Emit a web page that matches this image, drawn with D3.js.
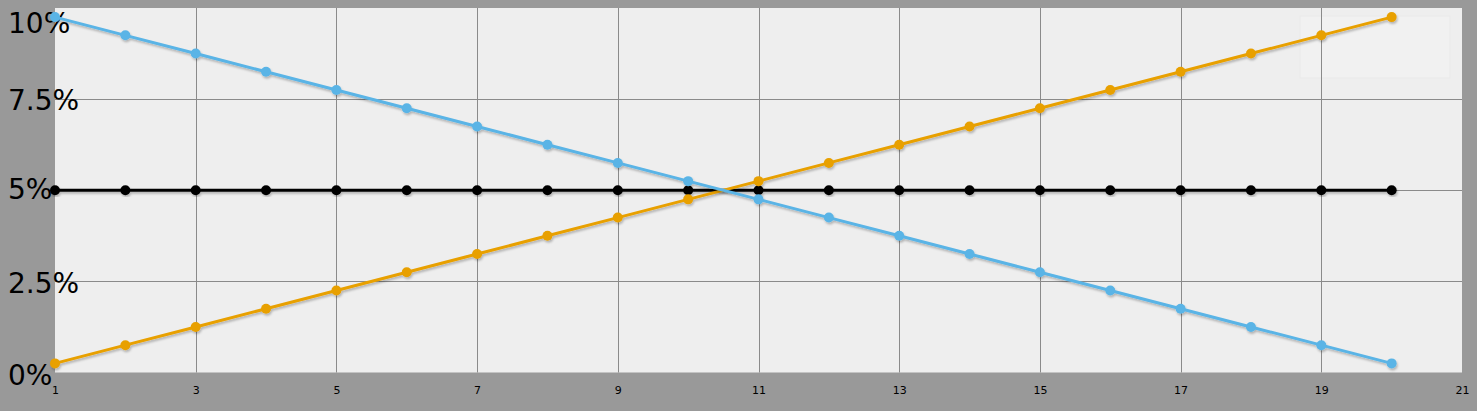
<!DOCTYPE html>
<html><head><meta charset="utf-8">
<script src="https://cdn.jsdelivr.net/npm/d3@7"></script>
<style>html,body{margin:0;padding:0;background:#999999;overflow:hidden}</style>
</head><body>
<svg id="c" width="1477" height="411"></svg>
<script>
const xValues = [1,2,3,4,5,6,7,8,9,10,11,12,13,14,15,16,17,18,19,20];
const blueValues = [9.75,9.25,8.75,8.25,7.75,7.25,6.75,6.25,5.75,5.25,4.75,4.25,3.75,3.25,2.75,2.25,1.75,1.25,0.75,0.25];
const orangeValues = [0.25,0.75,1.25,1.75,2.25,2.75,3.25,3.75,4.25,4.75,5.25,5.75,6.25,6.75,7.25,7.75,8.25,8.75,9.25,9.75];
const blackValues = [5,5,5,5,5,5,5,5,5,5,5,5,5,5,5,5,5,5,5,5];
const xTickValues = [1,3,5,7,9,11,13,15,17,19,21];
const yTickValues = [0,2.5,5,7.5,10];
const yTickLabels = ["0%","2.5%","5%","7.5%","10%"];

(function(){
const svg = d3.select("#c");
const W = 1477, H = 411;
const pL = 55, pR = 1462, pT = 8, pB = 372.5;
const x = d3.scaleLinear().domain([1,21]).range([pL,pR]);
const y = d3.scaleLinear().domain([0,10]).range([pB,pT]);

svg.append("rect").attr("width",W).attr("height",H).attr("fill","#999999");
svg.append("rect").attr("x",pL).attr("y",pT).attr("width",pR-pL).attr("height",pB-pT).attr("fill","#eeeeee");

const defs = svg.append("defs");
const f = defs.append("filter").attr("id","sh").attr("x","-5%").attr("y","-5%").attr("width","110%").attr("height","120%");
f.append("feDropShadow").attr("dx",1).attr("dy",2).attr("stdDeviation",1.2).attr("flood-color","#000").attr("flood-opacity",0.25);

// faint watermark box
svg.append("rect").attr("x",1300).attr("y",16).attr("width",150).attr("height",62).attr("fill","#f1f1f1").attr("stroke","#e9e9e9");

// grid
const grid = svg.append("g");
grid.selectAll("line.v").data(xTickValues.filter(d=>d>1&&d<21)).join("line")
  .attr("x1",d=>Math.round(x(d))+0.5).attr("x2",d=>Math.round(x(d))+0.5)
  .attr("y1",pT).attr("y2",pB).attr("stroke","#8a8a8a").attr("stroke-width",1);
grid.selectAll("line.h").data([2.5,5,7.5]).join("line")
  .attr("x1",pL).attr("x2",pR)
  .attr("y1",d=>Math.round(y(d))+0.5).attr("y2",d=>Math.round(y(d))+0.5)
  .attr("stroke","#8a8a8a").attr("stroke-width",1);

// x axis labels
const xAxis = d3.axisBottom(x).tickValues(xTickValues).tickSize(0).tickFormat(d3.format("d"));
const gx = svg.append("g").attr("transform",`translate(0,${pB+11})`).call(xAxis);
gx.select(".domain").remove();
gx.selectAll("text").attr("font-family","DejaVu Sans").attr("font-size",11).attr("fill","#000");

// y axis labels
const yOff = {0:4, 2.5:4, 5:1, 7.5:3, 10:17};
const gy = svg.append("g");
gy.selectAll("text").data(yTickValues).join("text")
  .attr("x",8)
  .attr("y",d=> y(d)+yOff[d])
  .attr("dominant-baseline","middle")
  .attr("font-family","DejaVu Sans").attr("font-size",28).attr("fill","#000")
  .text((d,i)=>yTickLabels[i]);

const series = [
  {vals: blackValues, color: "#000000"},
  {vals: orangeValues, color: "#e8a000"},
  {vals: blueValues, color: "#5ab4e6"}
];
const line = d3.line().x((d,i)=>x(xValues[i])).y(d=>y(d));
series.forEach(s=>{
  const g = svg.append("g").attr("filter","url(#sh)");
  g.append("path").datum(s.vals).attr("d",line).attr("fill","none").attr("stroke",s.color).attr("stroke-width",3);
  g.selectAll("circle").data(s.vals).join("circle")
    .attr("cx",(d,i)=>x(xValues[i])).attr("cy",d=>y(d)).attr("r",5).attr("fill",s.color);
});
})();
</script>
</body></html>
